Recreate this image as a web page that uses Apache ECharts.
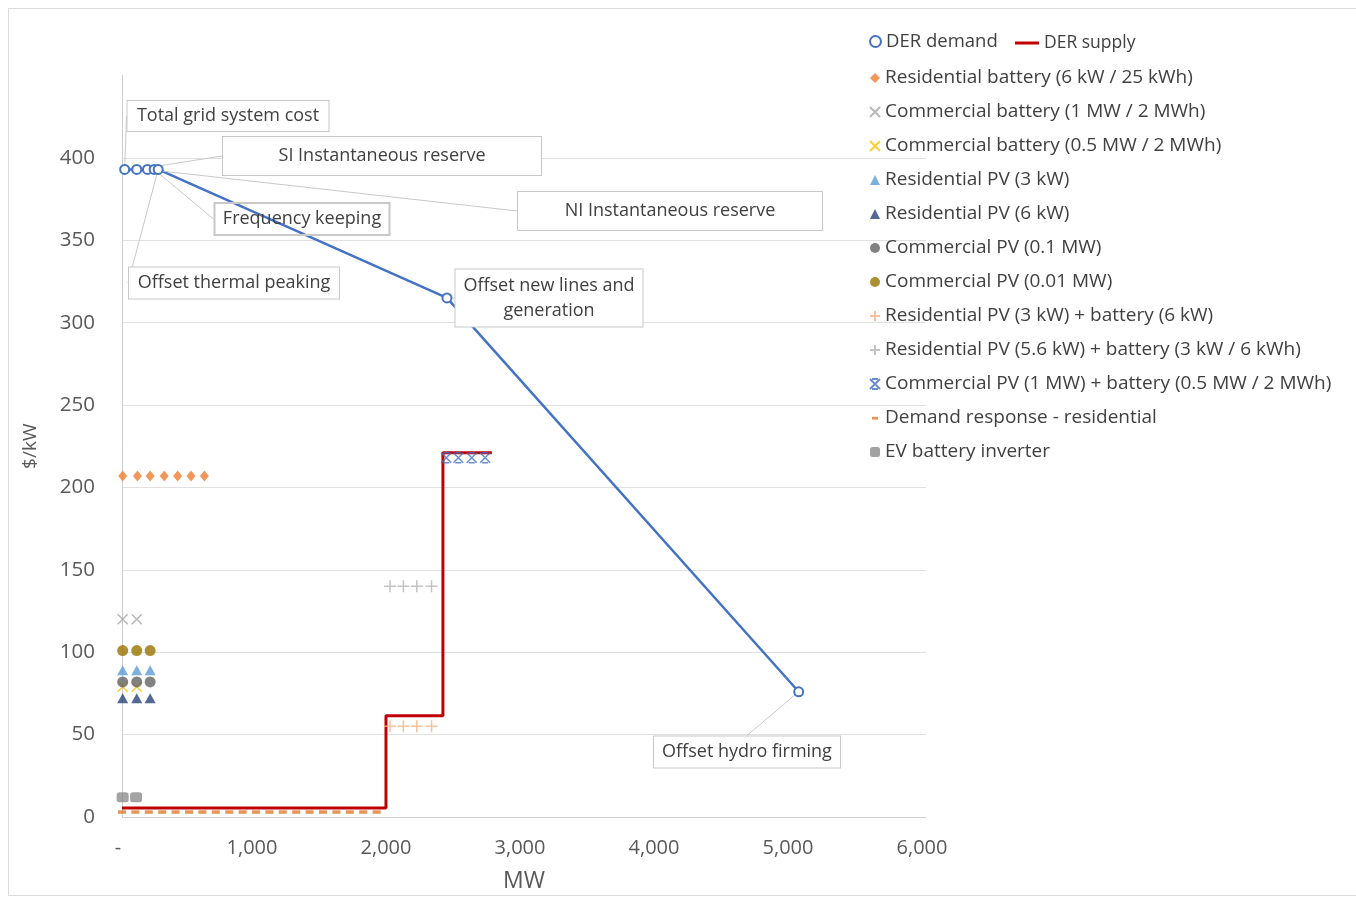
<!DOCTYPE html>
<html>
<head>
<meta charset="utf-8">
<script src="https://cdn.jsdelivr.net/npm/echarts@6/dist/echarts.min.js"></script>
<style>
  html, body { margin: 0; padding: 0; background: #fff; }
  #frame { position: absolute; left: 8px; top: 8px; width: 1400px; height: 888px; border: 1px solid #dcdcdc; box-sizing: border-box; }
  #chart { position: absolute; left: 0; top: 0; width: 1356px; height: 898px; }
</style>
</head>
<body>
<div id="frame"></div>
<div id="chart"></div>
<script>
// ---- Data: capacity (MW) on x, value ($/kW) on y ----
const xTickValues = [0, 1000, 2000, 3000, 4000, 5000, 6000];
const yTickValues = [0, 50, 100, 150, 200, 250, 300, 350, 400];

// DER demand: cumulative value stack of grid services
const demandNames = [
  'Total grid system cost',
  'SI Instantaneous reserve',
  'NI Instantaneous reserve',
  'Frequency keeping',
  'Offset thermal peaking',
  'Offset new lines and\ngeneration',
  'Offset hydro firming'
];
const demandMW   = [20, 110, 190, 240, 270, 2425, 5050];
const demandCost = [393, 393, 393, 393, 393, 315, 76];

// DER supply curve (stepped)
const supplyMW   = [0, 1970, 1970, 2395, 2395, 2760];
const supplyCost = [5.5, 5.5, 61.5, 61.5, 221, 221];

// Individual DER technologies
const resBatteryMW   = [5, 115, 210, 315, 415, 515, 615];
const resBatteryCost = [207, 207, 207, 207, 207, 207, 207];

const comBattery1MW   = [5, 110];
const comBattery1Cost = [120, 120];

const comBattery05MW   = [5, 110];
const comBattery05Cost = [79, 79];

const resPV3MW   = [5, 110, 210];
const resPV3Cost = [89, 89, 89];

const resPV6MW   = [5, 110, 210];
const resPV6Cost = [72, 72, 72];

const comPV01MW   = [5, 110, 210];
const comPV01Cost = [82, 82, 82];

const comPV001MW   = [5, 110, 210];
const comPV001Cost = [101, 101, 101];

const resPV3BattMW   = [2000, 2100, 2200, 2310];
const resPV3BattCost = [55, 55, 55, 55];

const resPV56BattMW   = [2000, 2100, 2200, 2310];
const resPV56BattCost = [140, 140, 140, 140];

const comPV1BattMW   = [2420, 2510, 2610, 2710];
const comPV1BattCost = [218, 218, 218, 218];

const demandRespMW   = [0, 100, 200, 300, 400, 500, 600, 700, 800, 900, 1000, 1100, 1200, 1300, 1400, 1500, 1600, 1700, 1800, 1900];
const demandRespCost = [3, 3, 3, 3, 3, 3, 3, 3, 3, 3, 3, 3, 3, 3, 3, 3, 3, 3, 3, 3];

const evInverterMW   = [5, 105];
const evInverterCost = [12, 12];

// ---- Layout of the callout boxes for the demand curve (pixel centre and size) ----
const calloutBoxes = [
  { cx: 228, cy: 116, w: 203, h: 30 },
  { cx: 382, cy: 156, w: 320, h: 38 },
  { cx: 670, cy: 211, w: 306, h: 38 },
  { cx: 302, cy: 219, w: 177, h: 32, clear: true },
  { cx: 234, cy: 283, w: 212, h: 31 },
  { cx: 549, cy: 298, w: 189, h: 57 },
  { cx: 747, cy: 752, w: 188, h: 31 }
];

const FONT = '"Open Sans", "Noto Sans", sans-serif';
const pairs = (xs, ys) => xs.map((x, i) => [x, ys[i]]);

const SYM_X = 'path://M0,0L10,10M10,0L0,10';
const SYM_PLUS = 'path://M5,0L5,10M0,5L10,5';
const SYM_STAR = 'path://M0,0L10,10M10,0L0,10M2,0L8,0M2,10L8,10';
// short dash centred in a 10x10 box (used as the legend icon)
const SYM_DASH_ICON = 'path://M0,0M10,10M2,3.8L8,3.8L8,6.6L2,6.6Z';

function strokeScatter(name, xs, ys, symbol, color, size, width) {
  return {
    name, type: 'scatter', data: pairs(xs, ys), symbol, symbolSize: size,
    itemStyle: { color: 'rgba(0,0,0,0)', borderColor: color, borderWidth: width },
    z: 3
  };
}
function fillScatter(name, xs, ys, symbol, color, size) {
  return {
    name, type: 'scatter', data: pairs(xs, ys), symbol, symbolSize: size,
    itemStyle: { color }, z: 3
  };
}

const demandData = demandMW.map((x, i) => {
  const b = calloutBoxes[i];
  const lines = demandNames[i].split('\n').length;
  const lh = lines > 1 ? 25 : 22;
  const padV = Math.max(0, (b.h - lh * lines) / 2);
  const label = { width: b.w - 2, padding: [padV, 0, padV, 0], lineHeight: lh };
  if (b.clear) label.backgroundColor = 'transparent';
  return { name: demandNames[i], value: [x, demandCost[i]], label };
});

const legendText = { color: '#404040', fontSize: 19, fontFamily: FONT };

const option = {
  backgroundColor: 'transparent',
  animation: false,
  textStyle: { fontFamily: FONT },
  grid: { left: 122, right: 430, top: 75.5, bottom: 81, containLabel: false },
  xAxis: {
    type: 'value', min: xTickValues[0], max: xTickValues[xTickValues.length - 1], interval: 1000,
    name: 'MW', nameLocation: 'middle', nameGap: 53,
    nameTextStyle: { color: '#595959', fontSize: 23, fontFamily: FONT },
    axisLine: { show: true, lineStyle: { color: '#cccccc', width: 1 } },
    axisTick: { show: false },
    axisLabel: {
      color: '#595959', fontSize: 20, fontFamily: FONT, margin: 21, padding: [0, 8, 0, 0],
      formatter: v => (v === 0 ? '-' : v.toLocaleString('en-US'))
    },
    splitLine: { show: false }
  },
  yAxis: {
    type: 'value', min: 0, max: 450, interval: 50,
    name: '$/kW', nameLocation: 'middle', nameGap: 82, nameRotate: 90,
    nameTextStyle: { color: '#595959', fontSize: 19, fontFamily: FONT },
    axisLine: { show: true, lineStyle: { color: '#cccccc', width: 1 } },
    axisTick: { show: false },
    axisLabel: {
      color: '#595959', fontSize: 20.5, fontFamily: FONT, margin: 27, showMaxLabel: false,
      formatter: v => (yTickValues.includes(v) ? String(v) : '')
    },
    splitLine: { show: true, showMaxLine: false, lineStyle: { color: '#e0e0e0', width: 1 } }
  },
  legend: [
    {
      left: 864, top: 27, orient: 'horizontal', itemWidth: 11, itemHeight: 11,
      textStyle: { color: '#404040', fontSize: 18.5, fontFamily: FONT }, selectedMode: false,
      data: [{ name: 'DER demand', icon: 'emptyCircle', itemStyle: { color: '#4472c4', borderColor: '#4472c4', borderWidth: 2.5 } }]
    },
    {
      left: 1010, top: 29, orient: 'horizontal', itemWidth: 24, itemHeight: 3,
      textStyle: { color: '#404040', fontSize: 17.5, fontFamily: FONT }, selectedMode: false,
      data: [{ name: 'DER supply', icon: 'rect', itemStyle: { color: '#c00000' } }]
    },
    {
      left: 864, top: 62, orient: 'vertical', itemWidth: 10, itemHeight: 10, itemGap: 12,
      textStyle: Object.assign({ lineHeight: 22 }, legendText), selectedMode: false,
      data: [
        'Residential battery (6 kW / 25 kWh)',
        'Commercial battery (1 MW / 2 MWh)',
        'Commercial battery (0.5 MW / 2 MWh)',
        'Residential PV (3 kW)',
        'Residential PV (6 kW)',
        'Commercial PV (0.1 MW)',
        'Commercial PV (0.01 MW)',
        'Residential PV (3 kW) + battery (6 kW)',
        'Residential PV (5.6 kW) + battery (3 kW / 6 kWh)',
        'Commercial PV (1 MW) + battery (0.5 MW / 2 MWh)',
        { name: 'Demand response - residential', icon: SYM_DASH_ICON },
        'EV battery inverter'
      ]
    }
  ],
  series: [
    {
      name: 'DER supply', type: 'line', data: pairs(supplyMW, supplyCost),
      symbol: 'none', lineStyle: { color: '#c00000', width: 3 }, itemStyle: { color: '#c00000' }, z: 2
    },
    fillScatter('Demand response - residential', demandRespMW, demandRespCost, 'rect', '#e07a2c', [8, 3.5]),
    fillScatter('EV battery inverter', evInverterMW, evInverterCost, 'roundRect', '#8c8c8c', [12, 10]),
    fillScatter('Residential battery (6 kW / 25 kWh)', resBatteryMW, resBatteryCost, 'diamond', '#ed7d31', [9, 11]),
    strokeScatter('Commercial battery (1 MW / 2 MWh)', comBattery1MW, comBattery1Cost, SYM_X, '#a5a5a5', 10, 1.5),
    strokeScatter('Commercial battery (0.5 MW / 2 MWh)', comBattery05MW, comBattery05Cost, SYM_X, '#ffc000', 10, 1.5),
    fillScatter('Residential PV (3 kW)', resPV3MW, resPV3Cost, 'triangle', '#5b9bd5', [11, 10]),
    fillScatter('Commercial PV (0.1 MW)', comPV01MW, comPV01Cost, 'circle', '#636363', 11),
    fillScatter('Residential PV (6 kW)', resPV6MW, resPV6Cost, 'triangle', '#264478', [11, 10]),
    fillScatter('Commercial PV (0.01 MW)', comPV001MW, comPV001Cost, 'circle', '#997300', 11),
    strokeScatter('Residential PV (3 kW) + battery (6 kW)', resPV3BattMW, resPV3BattCost, SYM_PLUS, '#f4b183', 12, 1.5),
    strokeScatter('Residential PV (5.6 kW) + battery (3 kW / 6 kWh)', resPV56BattMW, resPV56BattCost, SYM_PLUS, '#b4b4b4', 12, 1.5),
    strokeScatter('Commercial PV (1 MW) + battery (0.5 MW / 2 MWh)', comPV1BattMW, comPV1BattCost, SYM_STAR, '#4472c4', 10, 1.5),
    {
      name: 'DER demand', type: 'line', data: demandData,
      symbol: 'emptyCircle', symbolSize: 9,
      lineStyle: { color: '#4472c4', width: 2.5 },
      itemStyle: { color: '#4472c4', borderColor: '#4472c4', borderWidth: 2.5 },
      z: 4,
      label: {
        show: true, formatter: '{b}', color: '#404040', fontSize: 18, fontFamily: FONT,
        backgroundColor: '#fff', borderColor: '#c8c8c8', borderWidth: 1, align: 'center'
      },
      labelLine: { show: true, lineStyle: { color: '#c8c8c8', width: 1 } },
      labelLayout: p => {
        const b = calloutBoxes[p.dataIndex];
        return { x: b.cx, y: b.cy, align: 'center', verticalAlign: 'middle' };
      }
    }
  ]
};

const chart = echarts.init(document.getElementById('chart'), null, { renderer: 'canvas' });
chart.setOption(option);
</script>
</body>
</html>
